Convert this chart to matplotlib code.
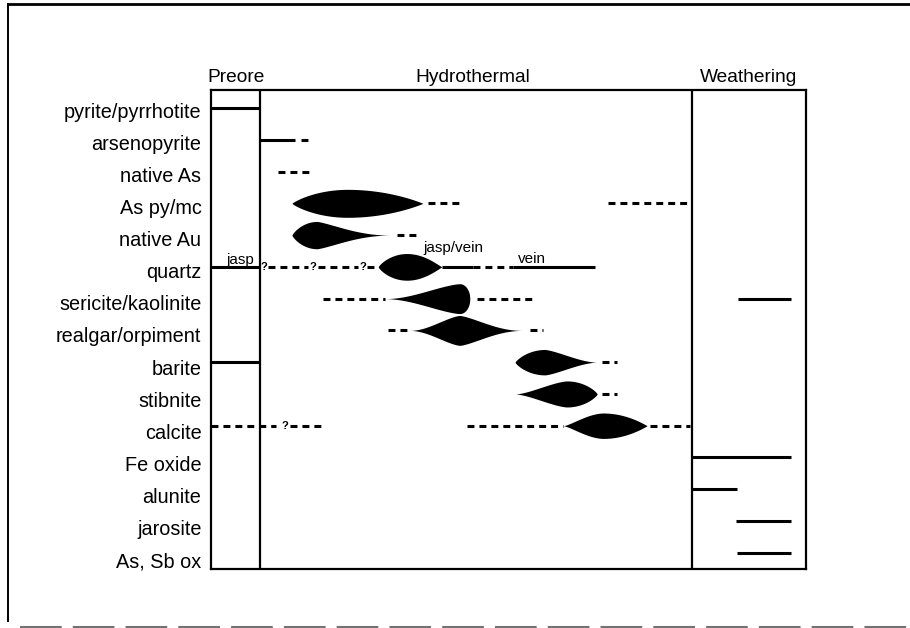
import numpy as np
import matplotlib.pyplot as plt
from matplotlib.lines import Line2D
from matplotlib.transforms import blended_transform_factory

plt.rcParams['font.family'] = ['Liberation Sans', 'DejaVu Sans']
plt.rcParams['lines.scale_dashes'] = False

minerals = ["pyrite/pyrrhotite", "arsenopyrite", "native As", "As py/mc",
            "native Au", "quartz", "sericite/kaolinite", "realgar/orpiment",
            "barite", "stibnite", "calcite", "Fe oxide", "alunite",
            "jarosite", "As, Sb ox"]
stages = ["Preore", "Hydrothermal", "Weathering"]

# relative paragenetic time, 0..100
preore_end = 8.3
weathering_start = 80.8

# solid bars (certain occurrence)
solid_row = [0, 1, 5, 5, 5, 6, 8, 11, 12, 13, 14]
solid_x0 = [0, 8.3, 0, 38.8, 50.8, 88.6, 0, 80.8, 80.8, 88.2, 88.4]
solid_x1 = [8.3, 14.1, 8.3, 44.0, 64.5, 97.5, 8.3, 97.5, 88.4, 97.5, 97.5]

# dashed bars (minor / uncertain)
dash_row = [1, 2, 3, 3, 4, 5, 5, 5, 5, 6, 6, 7, 7, 8, 9, 10, 10, 10, 10]
dash_x0 = [15.2, 11.3, 36.5, 66.7, 31.3, 9.6, 18.0, 26.3, 44.0, 18.8, 44.7,
           29.7, 53.6, 65.7, 65.7, 0, 13.3, 43.0, 73.8]
dash_x1 = [16.6, 16.5, 42.4, 80.8, 34.6, 16.3, 24.7, 28.1, 50.8, 29.2, 53.9,
           33.4, 55.8, 68.2, 68.2, 11.0, 18.6, 59.2, 80.5]

# abundance lenses: row, start, peak, end, half thickness (row units)
lens_row = [3, 4, 5, 6, 7, 8, 9, 10]
lens_start = [13.6, 13.6, 28.1, 29.2, 33.4, 51.1, 51.1, 59.2]
lens_peak = [22.9, 17.8, 32.9, 41.8, 41.8, 56.1, 59.8, 65.9]
lens_end = [35.6, 30.4, 38.8, 43.5, 52.4, 64.9, 64.9, 73.3]
lens_half = [0.44, 0.43, 0.42, 0.47, 0.47, 0.40, 0.41, 0.40]
lens_shape = [((2, 0.85), (2, 0.95)), ((2, 0.8), (1.3, 2.3)), ((2, 0.8), (2, 1.1)),
              ((1.5, 2.0), (2, 0.5)), ((1.5, 2.0), (1.4, 2.2)),
              ((2, 0.8), (1.4, 1.8)), ((1.5, 1.6), (2, 0.8)), ((1.8, 1.4), (2, 1.0))]

# question marks
q_row = [5, 5, 5, 10]
q_x = [8.9, 17.1, 25.5, 12.4]

# small notes on the quartz row
note_text = ["jasp", "jasp/vein", "vein"]
note_x = [4.9, 40.7, 53.9]
note_y = [4.9, 4.53, 4.87]


def lens_profile(x, start, peak, end, half, shape):
    h = np.zeros_like(x)
    left = x <= peak
    a, b = shape[0]
    s = (peak - x[left]) / (peak - start)
    h[left] = half * np.clip(1 - s ** a, 0, 1) ** b
    a, b = shape[1]
    s = (x[~left] - peak) / (end - peak)
    h[~left] = half * np.clip(1 - s ** a, 0, 1) ** b
    return h


fig = plt.figure(figsize=(9.1, 6.28), dpi=100)
ax = fig.add_axes([211 / 910, 1 - 569 / 628, 595 / 910, 479 / 628])
ax.set_xlim(0, 100)
ax.set_ylim(14.51, -0.567)
ax.set_xticks([])
ax.set_yticks([])
for sp in ax.spines.values():
    sp.set_linewidth(1.6)
ax.axvline(preore_end, color="k", lw=1.6)
ax.axvline(weathering_start, color="k", lw=1.6)

for r, x0, x1 in zip(solid_row, solid_x0, solid_x1):
    ax.plot([x0, x1], [r, r], color="k", lw=2.2, solid_capstyle="butt")

for r, x0, x1 in zip(dash_row, dash_x0, dash_x1):
    ax.plot([x0, x1], [r, r], color="k", lw=2.2, dashes=(5.0, 3.6),
            dash_capstyle="butt")

for r, x0, xp, x1, hh, shp in zip(lens_row, lens_start, lens_peak, lens_end,
                                  lens_half, lens_shape):
    xs = np.linspace(x0, x1, 300)
    h = lens_profile(xs, x0, xp, x1, hh, shp)
    ax.fill_between(xs, r - h, r + h, color="k", lw=0)

for r, x in zip(q_row, q_x):
    ax.text(x, r, "?", ha="center", va="center", fontsize=8, fontweight="bold",
            color="k")

for t, x, y in zip(note_text, note_x, note_y):
    ax.text(x, y, t, ha="center", va="baseline", fontsize=11)

lab_tr = blended_transform_factory(ax.transAxes, ax.transData)
for i, name in enumerate(minerals):
    ax.text(-0.016, i + 0.3 + 0.011 * i, name, transform=lab_tr, ha="right",
            va="baseline", fontsize=14.3)

head_tr = blended_transform_factory(ax.transData, ax.transAxes)
stage_mid = [preore_end / 2, (preore_end + weathering_start) / 2 - 0.5,
             (weathering_start + 100) / 2]
for name, x in zip(stages, stage_mid):
    ax.text(x, 1.017, name, transform=head_tr, ha="center", va="baseline",
            fontsize=13.8)

# scanned page frame
fig.add_artist(Line2D([8 / 910, 8 / 910], [1 - 4 / 628, 1 - 621 / 628],
                      color="k", lw=1.4, transform=fig.transFigure))
fig.add_artist(Line2D([8 / 910, 1.0], [1 - 4 / 628, 1 - 4 / 628],
                      color="k", lw=2.0, transform=fig.transFigure))
fig.add_artist(Line2D([20 / 910, 1.0], [1 - 627 / 628, 1 - 627 / 628],
                      color="0.45", lw=1.5, dashes=(30, 8),
                      transform=fig.transFigure))

fig.savefig("out.png", dpi=100)
